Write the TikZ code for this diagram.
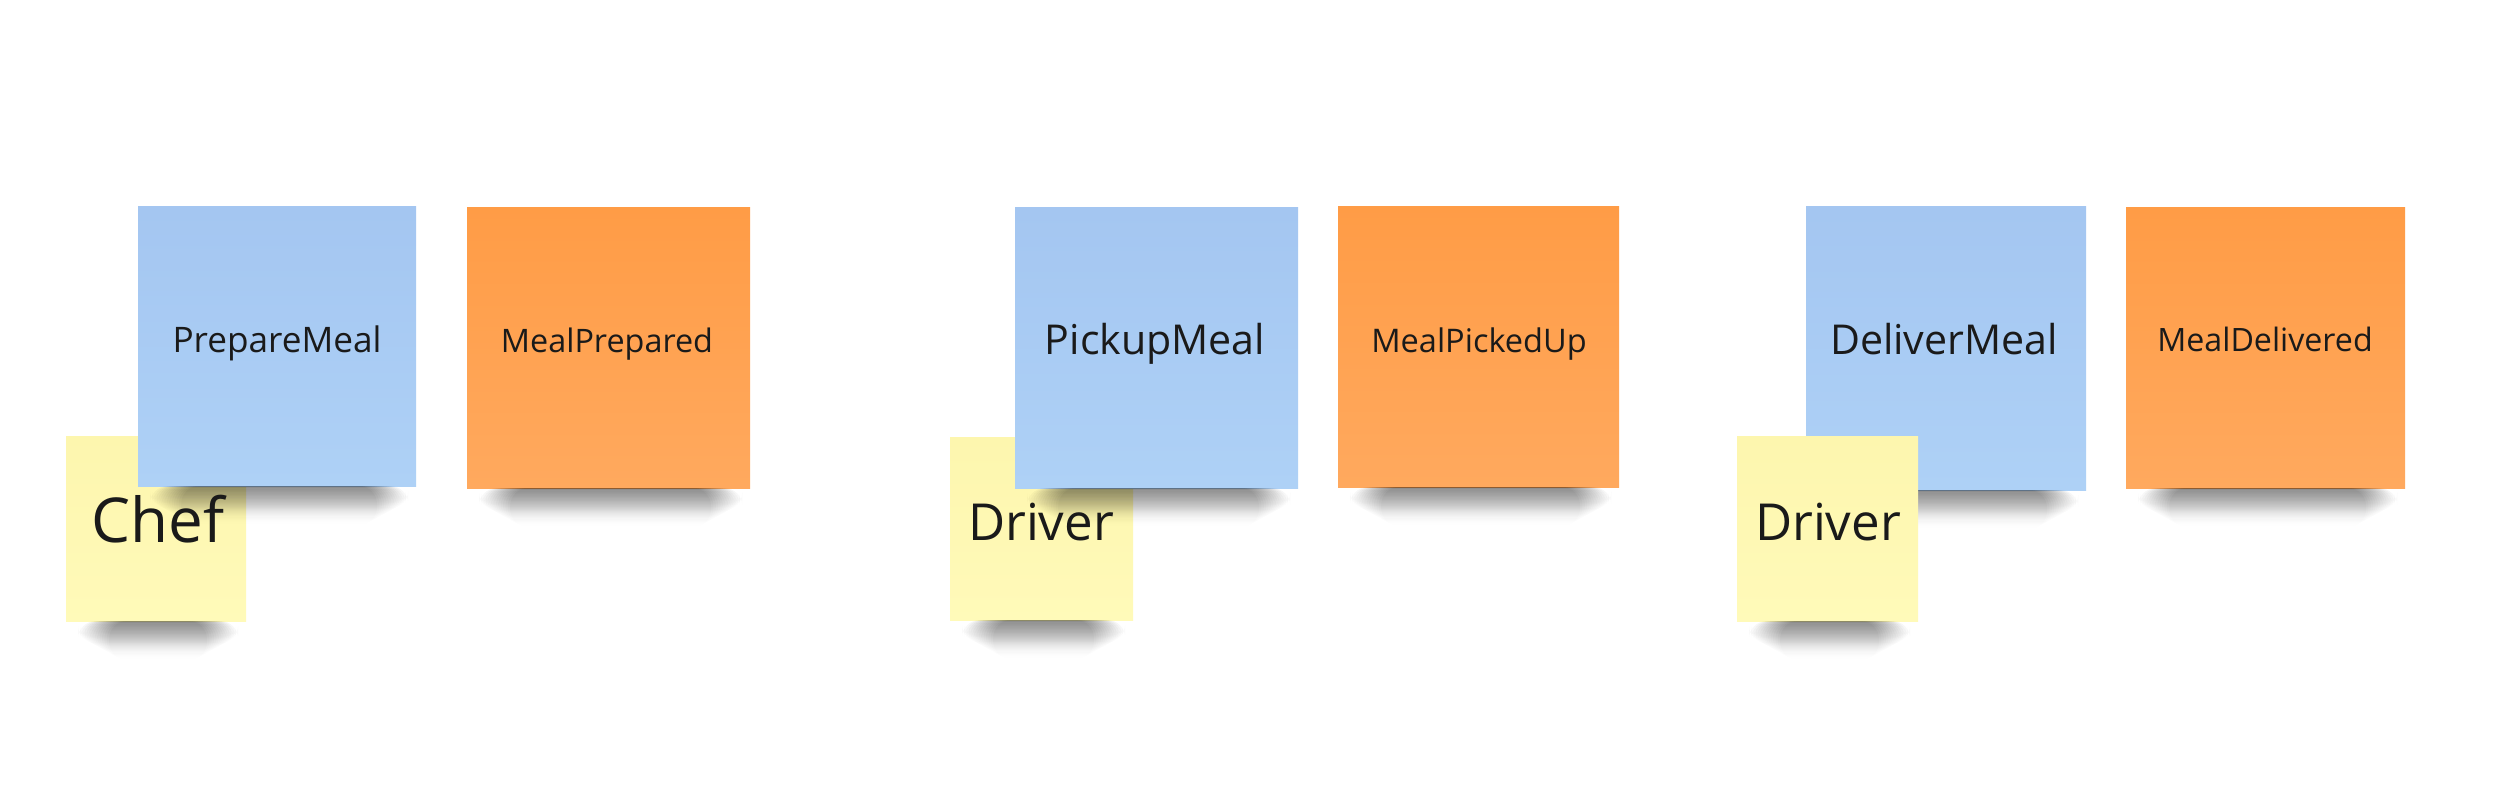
\documentclass[tikz,border=0pt]{standalone}
\usepackage{fontspec}
\setmainfont{Open Sans}
\usetikzlibrary{calc,fadings}
\definecolor{bluetop}{HTML}{A4C6F1}
\definecolor{bluebot}{HTML}{AED1F6}
\definecolor{orgtop}{HTML}{FF9C46}
\definecolor{orgbot}{HTML}{FFA95E}
\definecolor{yeltop}{HTML}{FDF6AE}
\definecolor{yelbot}{HTML}{FFFAB9}
\definecolor{ink}{HTML}{1A1A1A}
\tikzfading[name=shadowfade, top color=transparent!0, bottom color=transparent!100]
\tikzset{
  note/.style={anchor=north west, inner sep=0pt, outer sep=0pt, draw=none},
  bluenote/.style={note, top color=bluetop, bottom color=bluebot},
  orangenote/.style={note, top color=orgtop, bottom color=orgbot},
  yellownote/.style={note, top color=yeltop, bottom color=yelbot},
  lbl/.style={anchor=base, inner sep=0pt, text=ink},
  shadowlayer/.style={fill=black, opacity=0.04, path fading=shadowfade, rounded corners=5pt},
}
\newcommand\noteshadow[1]{%
  \foreach \k in {0,...,13}{
    \path[shadowlayer]
      ($(#1.south west)+(12+2.4*\k,0)$) rectangle ($(#1.south east)+(-8-2.4*\k,22+1.3*\k)$);
  }%
}
\begin{document}
\begin{tikzpicture}[x=0.01cm, y=-0.01cm]
\useasboundingbox[fill=white] (0,0) rectangle (2507,792);

% ---- group 1
\node[yellownote, minimum width=1.80cm, minimum height=1.84cm] (y1) at (66,437) {};
\noteshadow{y1}
\node[bluenote, minimum width=2.78cm, minimum height=2.79cm] (b1) at (138,207) {};
\noteshadow{b1}
\node[orangenote, minimum width=2.83cm, minimum height=2.80cm] (o1) at (467,208) {};
\noteshadow{o1}
\node[lbl, font=\fontsize{10.0}{12}\selectfont] (tb1) at (277,353) {PrepareMeal};
\node[lbl, font=\fontsize{9.2}{11}\selectfont] (to1) at (607,353) {MealPrepared};
\node[lbl, font=\fontsize{17.6}{20}\selectfont] (ty1) at (158,543) {Chef};

% ---- group 2
\node[yellownote, minimum width=1.83cm, minimum height=1.82cm] (y2) at (950,438) {};
\noteshadow{y2}
\node[bluenote, minimum width=2.83cm, minimum height=2.80cm] (b2) at (1015,208) {};
\noteshadow{b2}
\node[orangenote, minimum width=2.81cm, minimum height=2.80cm] (o2) at (1338,207) {};
\noteshadow{o2}
\node[lbl, font=\fontsize{11.7}{14}\selectfont] (tb2) at (1155,355) {PickupMeal};
\node[lbl, font=\fontsize{9.25}{11}\selectfont] (to2) at (1479,353) {MealPickedUp};
\node[lbl, font=\fontsize{14.5}{17}\selectfont] (ty2) at (1041,541) {Driver};

% ---- group 3
\node[bluenote, minimum width=2.80cm, minimum height=2.83cm] (b3) at (1806,207) {};
\noteshadow{b3}
\node[yellownote, minimum width=1.81cm, minimum height=1.84cm] (y3) at (1737,437) {};
\noteshadow{y3}
\node[orangenote, minimum width=2.79cm, minimum height=2.80cm] (o3) at (2126,208) {};
\noteshadow{o3}
\node[lbl, font=\fontsize{11.7}{14}\selectfont] (tb3) at (1944,355) {DeliverMeal};
\node[lbl, font=\fontsize{9.15}{11}\selectfont] (to3) at (2265,352) {MealDelivered};
\node[lbl, font=\fontsize{14.5}{17}\selectfont] (ty3) at (1828,541) {Driver};
\end{tikzpicture}
\end{document}
